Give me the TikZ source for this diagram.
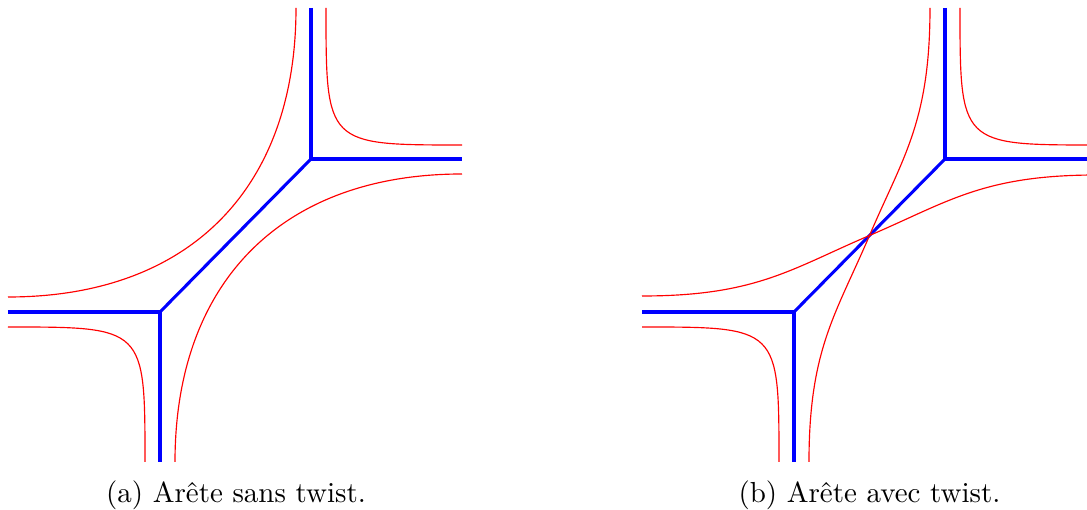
\documentclass[tikz,border=0pt]{standalone}
\begin{document}
\begin{tikzpicture}[x=0.345pt,y=-0.345pt,
  edge/.style={blue,line width=1.05pt},
  ribbon/.style={red,line width=0.4pt},
  caption/.style={anchor=base,inner sep=0pt,font=\normalsize}]
\useasboundingbox (0,0) rectangle (1087,510);
\clip (0,0) rectangle (1087,510);
% ---------- panel (a)
\coordinate (aL) at (8,312);
\coordinate (aB) at (160,312);
\coordinate (aD) at (160,462);
\coordinate (aC) at (311,159);
\coordinate (aU) at (311,8);
\coordinate (aR) at (462,159);
\draw[edge] (aL) -- (aB) -- (aD);
\draw[edge] (aB) -- (aC);
\draw[edge] (aU) -- (aC) -- (aR);
\draw[ribbon] (296,8) .. controls (296,189) and (189,297) .. (8,297);
\draw[ribbon] (326,8) .. controls (326,145) and (326,145) .. (462,145);
\draw[ribbon] (462,174) .. controls (282,174) and (175,282) .. (175,462);
\draw[ribbon] (8,327) .. controls (145,327) and (145,327) .. (145,462);
\node[caption] (capA) at (236,503) {(a) Arête sans twist.};
% ---------- panel (b)
\coordinate (bL) at (642,312);
\coordinate (bB) at (794,312);
\coordinate (bD) at (794,462);
\coordinate (bC) at (945,159);
\coordinate (bU) at (945,8);
\coordinate (bR) at (1096,159);
\coordinate (bM) at (869.5,235.5);
\draw[edge] (bL) -- (bB) -- (bD);
\draw[edge] (bB) -- (bC);
\draw[edge] (bU) -- (bC) -- (bR);
\draw[ribbon] (930,8) .. controls (930,122) and (903,157) .. (bM)
  .. controls (836,314) and (809,349) .. (809,462);
\draw[ribbon] (642,296) .. controls (756,296) and (791,269) .. (bM)
  .. controls (948,202) and (983,175) .. (1097,175);
\draw[ribbon] (960,8) .. controls (960,145) and (960,145) .. (1096,145);
\draw[ribbon] (642,327) .. controls (779,327) and (779,327) .. (779,462);
\node[caption] (capB) at (869.5,503) {(b) Arête avec twist.};
\end{tikzpicture}
\end{document}
